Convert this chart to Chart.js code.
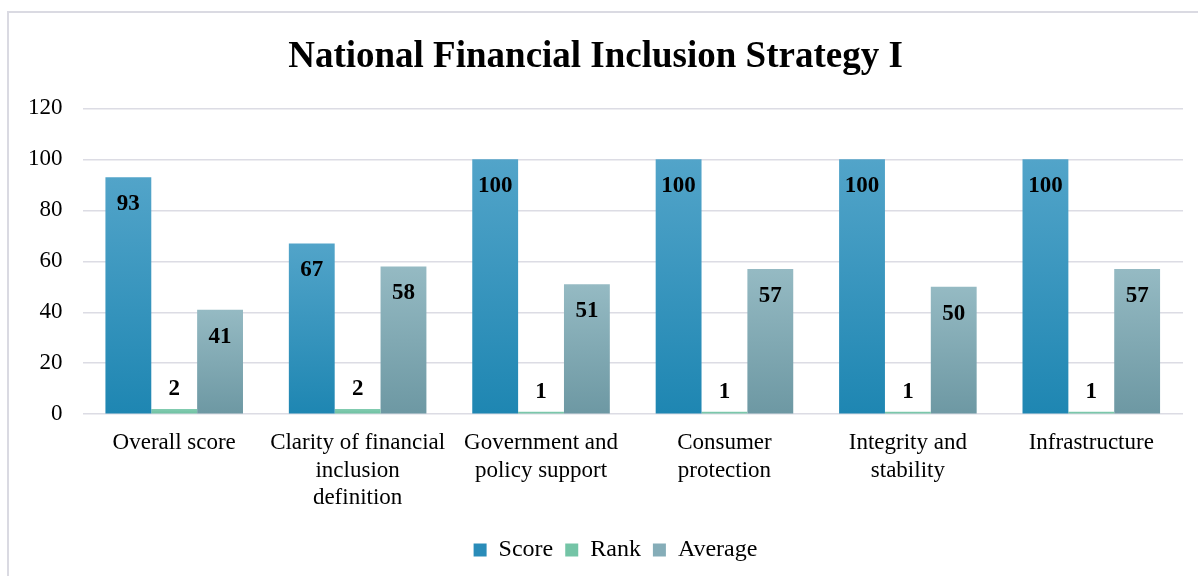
<!DOCTYPE html>
<html lang="en">
  <head>
    <meta charset="UTF-8" />
    <title>National Financial Inclusion Strategy I</title>
    <script src="https://cdn.jsdelivr.net/npm/chart.js"></script>
    <style>
      html, body {
        margin: 0;
        padding: 0;
        background: #ffffff;
        overflow: hidden;
      }
      .frame {
        position: absolute;
        left: 7px;
        top: 11px;
        width: 1300px;
        height: 700px;
        border-left: 2px solid #dadae2;
        border-top: 2px solid #dadae2;
      }
      .wrap {
        position: absolute;
        left: 0;
        top: 0;
        width: 1198px;
        height: 576px;
      }
    </style>
  </head>
  <body>
    <div class="frame"></div>
    <div class="wrap"><canvas id="nfisChart"></canvas></div>

    <script>
      const categories = [
        "Overall score",
        ["Clarity of financial", "inclusion", "definition"],
        ["Government and", "policy support"],
        ["Consumer", "protection"],
        ["Integrity and", "stability"],
        "Infrastructure",
      ];
      const scoreValues = [93, 67, 100, 100, 100, 100];
      const rankValues = [2, 2, 1, 1, 1, 1];
      const averageValues = [41, 58, 51, 57, 50, 57];
      const yTicks = [0, 20, 40, 60, 80, 100, 120];

      const serif = "'Liberation Serif', 'Times New Roman', serif";

      // vertical gradient per bar, lighter at the top
      function barGradient(top, bottom) {
        return (ctx) => {
          const chart = ctx.chart;
          if (ctx.type !== "data") return bottom;
          const yScale = chart.scales.y;
          const v = ctx.parsed ? ctx.parsed.y : ctx.raw;
          const y0 = yScale.getPixelForValue(0);
          const y1 = yScale.getPixelForValue(v);
          if (!isFinite(y0) || !isFinite(y1) || y0 === y1) return bottom;
          const g = chart.ctx.createLinearGradient(0, y1, 0, y0);
          g.addColorStop(0, top);
          g.addColorStop(1, bottom);
          return g;
        };
      }

      // value labels: inside the top of tall bars, above the small rank bars
      const valueLabels = {
        id: "valueLabels",
        afterDatasetsDraw(chart) {
          const ctx = chart.ctx;
          ctx.save();
          ctx.font = "bold 23px " + serif;
          ctx.fillStyle = "#000000";
          ctx.textAlign = "center";
          ctx.textBaseline = "middle";
          chart.data.datasets.forEach((ds, i) => {
            const meta = chart.getDatasetMeta(i);
            meta.data.forEach((bar, j) => {
              const v = ds.data[j];
              const y = ds.label === "Rank" ? bar.y - 20 : bar.y + 27;
              ctx.fillText(String(v), bar.x, y);
            });
          });
          ctx.restore();
        },
      };

      // nudge the legend a little right of centre and down towards the bottom edge
      const legendShift = {
        id: "legendShift",
        afterLayout(chart) {
          if (!chart.legend) return;
          chart.legend.left += 20;
          chart.legend.right += 20;
          chart.legend.top += 7;
          chart.legend.bottom += 7;
        },
      };

      const legendColors = {
        Score: "#2a8cb9",
        Rank: "#74c4a6",
        Average: "#85adb8",
      };

      new Chart(document.getElementById("nfisChart"), {
        type: "bar",
        data: {
          labels: categories,
          datasets: [
            {
              label: "Score",
              data: scoreValues,
              backgroundColor: barGradient("#52a4c9", "#1e86b2"),
            },
            {
              label: "Rank",
              data: rankValues,
              backgroundColor: barGradient("#82ccb0", "#6cbfa0"),
            },
            {
              label: "Average",
              data: averageValues,
              backgroundColor: barGradient("#95bac3", "#6d98a3"),
            },
          ],
        },
        options: {
          responsive: true,
          maintainAspectRatio: false,
          animation: false,
          categoryPercentage: 0.75,
          barPercentage: 1.0,
          layout: {
            padding: { top: 35, left: 8, right: 15, bottom: 11 },
          },
          plugins: {
            title: {
              display: true,
              text: "National Financial Inclusion Strategy I",
              color: "#000000",
              font: { family: serif, size: 37, weight: "bold" },
              padding: { top: 0, bottom: 29 },
            },
            legend: {
              position: "bottom",
              labels: {
                color: "#000000",
                font: { family: serif, size: 24 },
                boxWidth: 13,
                boxHeight: 13,
                padding: 12,
                generateLabels: (chart) =>
                  chart.data.datasets.map((ds, i) => ({
                    text: ds.label,
                    fillStyle: legendColors[ds.label],
                    strokeStyle: legendColors[ds.label],
                    lineWidth: 0,
                    datasetIndex: i,
                    hidden: false,
                  })),
              },
            },
            tooltip: { enabled: false },
          },
          scales: {
            x: {
              grid: { display: false },
              border: { display: false },
              ticks: {
                color: "#000000",
                font: { family: serif, size: 23 },
                maxRotation: 0,
                autoSkip: false,
                padding: 7,
              },
            },
            y: {
              min: 0,
              max: 120,
              afterBuildTicks: (axis) => {
                axis.ticks = yTicks.map((v) => ({ value: v }));
              },
              grid: {
                color: "#dcdce4",
                lineWidth: 1.5,
                drawTicks: false,
              },
              border: { display: false },
              ticks: {
                color: "#000000",
                font: { family: serif, size: 23 },
                padding: 20,
              },
            },
          },
        },
        plugins: [valueLabels, legendShift],
      });
    </script>
  </body>
</html>
